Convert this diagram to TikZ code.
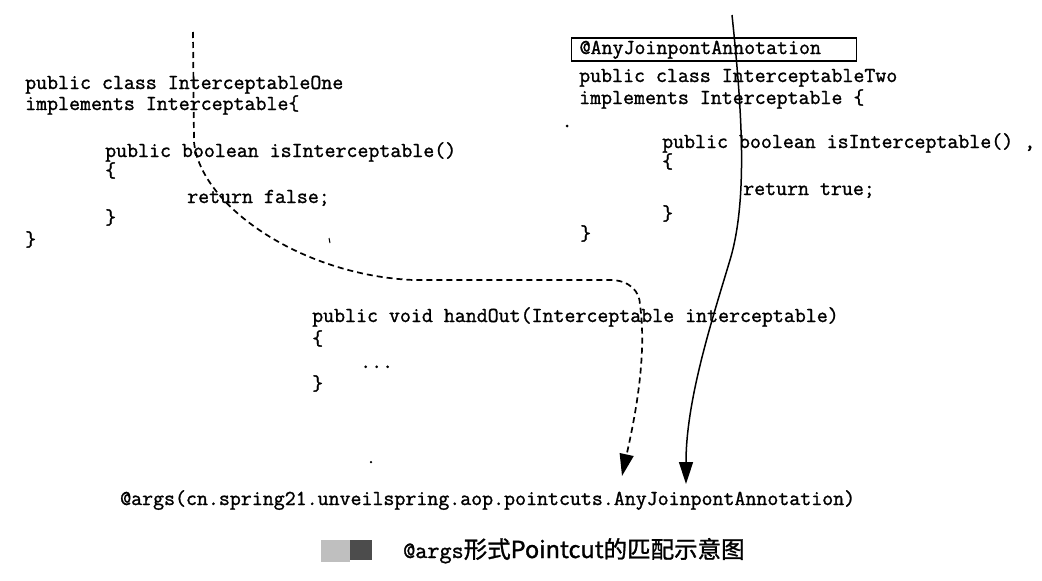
\documentclass[tikz,border=0pt]{standalone}
\usepackage{fontspec}
\newfontfamily\cjk{Noto Sans CJK SC}[FakeBold=1.2]
\newfontfamily\codefont{Latin Modern Mono}[FakeBold=1.3]
\usetikzlibrary{arrows.meta,calc}
\tikzset{
  code/.style={font=\fontsize{21.3}{22}\selectfont\codefont, inner sep=0pt, anchor=base west,
               text height=12pt, text depth=3pt},
  conn/.style={line width=1.5pt, -{Triangle[length=22pt,width=14pt]}},
  dashconn/.style={conn, line width=1.7pt, dash pattern=on 6pt off 4pt},
  speck/.style={fill=black, inner sep=0pt, circle, minimum size=3pt},
}
\begin{document}
\begin{tikzpicture}[x=1pt,y=-1pt]
\useasboundingbox (0,0) rectangle (1042,581);
% left class
\node[code] (l1) at (25,89) {public class InterceptableOne};
\node[code] (l2) at (25,110) {implements Interceptable\{};
\node[code] (l3) at (105,157) {public boolean isInterceptable()};
\node[code] (l4) at (105,177) {\{};
\node[code] (l5) at (187,203) {return false;};
\node[code] (l6) at (105,224) {\}};
\node[code] (l7) at (25,246) {\}};
% right class
\node[code, draw, line width=1.3pt, anchor=west, minimum width=285pt, minimum height=23pt,
      inner xsep=8pt, text width=269pt, align=left] (anno) at (571,49.5) {@AnyJoinpontAnnotation};
\node[code] (r1) at (579,82) {public class InterceptableTwo};
\node[code] (r2) at (579,104) {implements Interceptable \{};
\node[code] (r3) at (662,148) {public boolean isInterceptable() ,};
\node[code] (r4) at (662,168) {\{};
\node[code] (r5) at (743,195) {return true;};
\node[code] (r6) at (662,220) {\}};
\node[code] (r7) at (580,240) {\}};
% middle method
\node[code] (m1) at (312,322) {public void handOut(Interceptable interceptable)};
\node[code] (m2) at (312,345) {\{};
\node[code] (m3) at (360,368) {...};
\node[code] (m4) at (312,390) {\}};
% pointcut expression
\node[code] (args) at (120,505)
  {@args(cn.spring21.unveilspring.aop.pointcuts.AnyJoinpontAnnotation)};
% caption
\fill[black!25] (321,540) rectangle (350,562);
\fill[black!70] (350,540) rectangle (372,560);
\node[inner sep=0pt, anchor=base west, font=\fontsize{23.5}{26}\selectfont] (cap) at (403,558)
  {{\codefont @args}{\cjk 形式Pointcut的匹配示意图}};
% specks
\node[speck] (d1) at (567,126) {};
\node[speck, minimum size=2.5pt] (d2) at (371,462) {};
\draw[line width=1pt] (329,238) -- (330,243);
% connectors
\coordinate (s1) at (193,32);
\coordinate (t1) at (622,476);
\coordinate (s2) at (732,15);
\coordinate (t2) at (686,484);
\draw[dashconn] (s1) -- (194,142) .. controls (200,205) and (300,275) .. (413,280)
  -- (610,280) .. controls (630,280) and (640,292) .. (640,305)
  .. controls (648,360) and (632,430) .. (t1);
\draw[conn] (s2) .. controls (742,110) and (748,200) .. (730,260)
  .. controls (712,320) and (686,400) .. (t2);
\end{tikzpicture}
\end{document}
